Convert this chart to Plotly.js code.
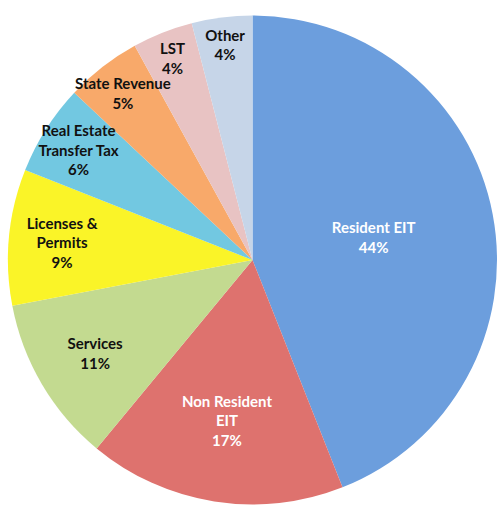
<!DOCTYPE html>
<html>
<head>
<meta charset="utf-8">
<script src="https://cdn.plot.ly/plotly-3.0.1.min.js"></script>
<style>html,body{margin:0;padding:0;background:#fff;}#chart{width:500px;height:518px;}</style>
</head>
<body>
<div id="chart"></div>
<script>
var categories = ["Resident EIT", "Non Resident<br>EIT", "Services", "Licenses &<br>Permits", "Real Estate<br>Transfer Tax", "State Revenue", "LST", "Other"];
var values = [44, 17, 11, 9, 6, 5, 4, 4];
var sliceColors = ["#6c9edd", "#de726e", "#c3da90", "#faf428", "#72c8e1", "#f8a96a", "#e8c3c3", "#c6d5e8"];
var textColors = ["#ffffff", "#ffffff", "#111111", "#111111", "#111111", "#111111", "#111111", "#111111"];

var pieDomain = {x: [0.016, 0.994], y: [0.025, 0.971]};

// Slices
var sliceTrace = {
  type: "pie",
  labels: categories,
  values: values,
  sort: false,
  direction: "clockwise",
  rotation: 0,
  marker: {colors: sliceColors, line: {width: 0}},
  textinfo: "none",
  hoverinfo: "none",
  domain: pieDomain
};

// Labels on a transparent copy on top, so no slice hides a label
var labelTrace = {
  type: "pie",
  labels: categories,
  values: values,
  sort: false,
  direction: "clockwise",
  rotation: 0,
  marker: {colors: categories.map(function () { return "rgba(0,0,0,0)"; }), line: {width: 0}},
  texttemplate: "%{label}<br>%{percent:.0%}",
  textposition: "inside",
  insidetextorientation: "horizontal",
  textfont: {family: "Lato, 'Open Sans', sans-serif", color: textColors, size: 15, weight: "bold"},
  hoverinfo: "none",
  domain: pieDomain
};

var layout = {
  width: 500,
  height: 518,
  margin: {l: 0, r: 0, t: 0, b: 0},
  showlegend: false,
  paper_bgcolor: "#ffffff",
  uniformtext: {mode: "show", minsize: 15}
};

Plotly.newPlot("chart", [sliceTrace, labelTrace], layout, {displayModeBar: false, staticPlot: true});
</script>
</body>
</html>
